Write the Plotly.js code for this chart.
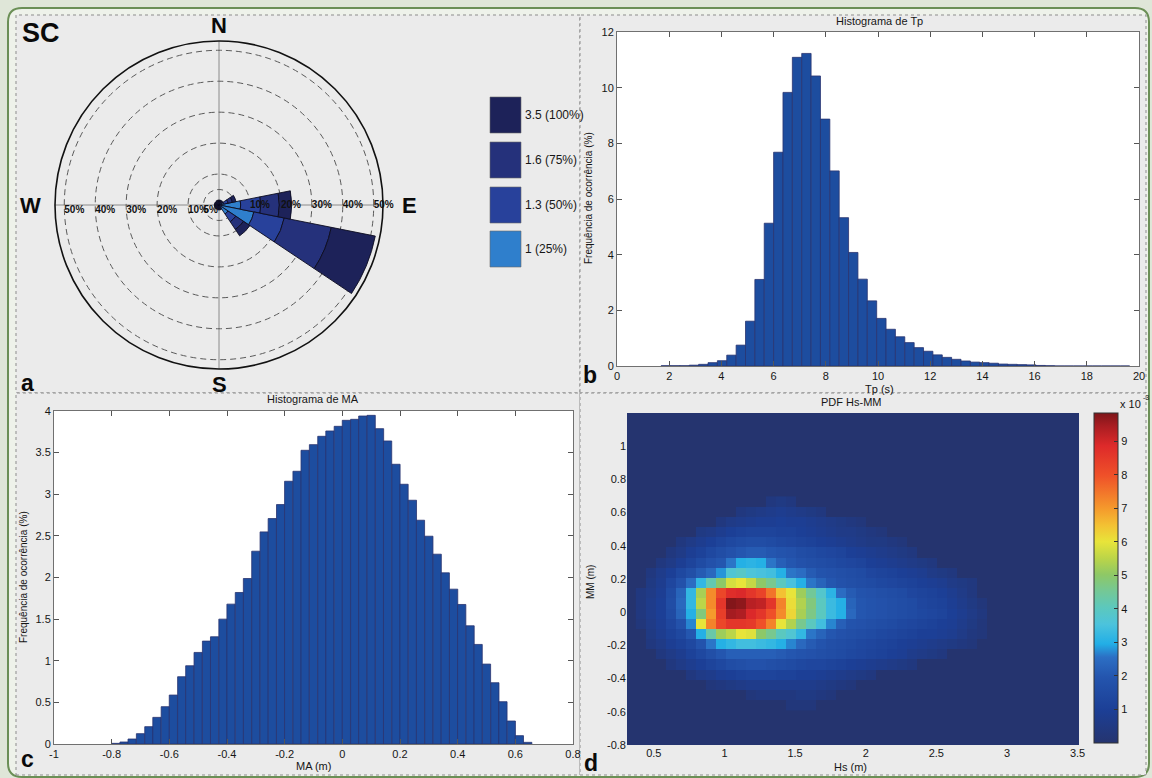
<!DOCTYPE html>
<html>
<head>
<meta charset="utf-8">
<script src="https://cdn.plot.ly/plotly-3.0.1.min.js"></script>
<style>
html,body{margin:0;padding:0;background:#dfe6d8;}
#chart{width:1152px;height:778px;}
</style>
</head>
<body>
<div id="chart"></div>
<script>
// ---------------- DATA ----------------
// (a) wind rose: 16 directions, stacked Hs classes (percent of occurrence per segment)
const directions = ['N','NNE','NE','ENE','E','ESE','SE','SSE','S','SSW','SW','WSW','W','WNW','NW','NNW'];
const directionDeg = [0,22.5,45,67.5,90,112.5,135,157.5,180,202.5,225,247.5,270,292.5,315,337.5];
const hsClassLabels = ['1 (25%)','1.3 (50%)','1.6 (75%)','3.5 (100%)'];
const hsClassColors = ['#2f7fcc','#28419b','#25317b','#1d2259'];
const roseClass1 = [0.5,0.5,0.5,1.5,7.0,11.5,3.5,0.5,0.5,0.4,0.4,0.4,0.4,0.4,0.4,0.5];
const roseClass2 = [0.4,0.4,0.4,1.5,6.5,10.0,3.0,0.4,0.4,0.4,0.4,0.4,0.4,0.4,0.4,0.4];
const roseClass3 = [0.4,0.4,0.4,1.4,6.0,15.5,3.0,0.4,0.4,0.4,0.4,0.4,0.4,0.4,0.4,0.4];
const roseClass4 = [0.3,0.3,0.3,1.2,4.0,14.5,2.5,0.3,0.3,0.3,0.3,0.3,0.3,0.3,0.3,0.3];
const ringValues = [5,10,20,30,40,50];
const ringLabelsWest = ['5%','10%','20%','30%','40%','50%'];
const ringValuesEast = [10,20,30,40,50];
const ringLabelsEast = ['10%','20%','30%','40%','50%'];

// (b) Tp histogram
const tpBinCenters = [1.872,2.231,2.590,2.949,3.308,3.667,4.026,4.385,4.744,5.103,5.462,5.821,6.180,6.539,6.898,7.257,7.616,7.975,8.334,8.693,9.052,9.411,9.770,10.129,10.488,10.847,11.206,11.565,11.924,12.283,12.642,13.001,13.360,13.719,14.078,14.437,14.796,15.155,15.514,15.873,16.232,16.591,16.950,17.309,17.668,18.027,18.386,18.745,19.104,19.463];
const tpFrequency = [0.01,0.01,0.01,0.03,0.06,0.12,0.19,0.39,0.75,1.61,3.11,5.13,7.68,9.83,11.09,11.23,10.42,8.87,7.01,5.33,4.08,3.12,2.34,1.71,1.32,1.05,0.84,0.66,0.53,0.40,0.31,0.24,0.18,0.14,0.12,0.10,0.07,0.06,0.05,0.04,0.02,0.01,0,0,0,0,0,0,0,0];
const tpBinWidth = 0.359;
const tpXTicks = [0,2,4,6,8,10,12,14,16,18,20];
const tpYTicks = [0,2,4,6,8,10,12];

// (c) MA histogram
const maBinCenters = [-0.786,-0.757,-0.729,-0.700,-0.671,-0.643,-0.614,-0.586,-0.557,-0.529,-0.500,-0.471,-0.443,-0.414,-0.386,-0.357,-0.329,-0.300,-0.271,-0.243,-0.214,-0.186,-0.157,-0.129,-0.100,-0.071,-0.043,-0.014,0.014,0.043,0.071,0.100,0.129,0.157,0.186,0.214,0.243,0.271,0.300,0.329,0.357,0.386,0.414,0.443,0.471,0.500,0.529,0.557,0.586,0.614,0.643];
const maFrequency = [0.008,0.024,0.06,0.124,0.208,0.32,0.448,0.588,0.808,0.94,1.10,1.236,1.288,1.50,1.68,1.82,1.988,2.316,2.548,2.708,2.876,3.156,3.276,3.528,3.596,3.696,3.76,3.816,3.888,3.90,3.94,3.948,3.788,3.64,3.36,3.12,2.928,2.688,2.496,2.28,2.056,1.86,1.676,1.42,1.196,0.96,0.736,0.508,0.276,0.10,0.02];
const maBinWidth = 0.0286;
const maXTicks = [-1,-0.8,-0.6,-0.4,-0.2,0,0.2,0.4,0.6,0.8];
const maXTickText = ['-1','-0.8','-0.6','-0.4','-0.2','0','0.2','0.4','0.6','0.8'];
const maYTicks = [0,0.5,1,1.5,2,2.5,3,3.5,4];

// (d) joint PDF Hs-MM (values x 10^-3), rows from top (high MM) to bottom
const hsCenters = [0.408,0.479,0.550,0.621,0.692,0.763,0.834,0.905,0.976,1.047,1.118,1.189,1.260,1.331,1.402,1.473,1.544,1.615,1.686,1.757,1.828,1.899,1.970,2.041,2.112,2.183,2.254,2.325,2.396,2.467,2.538,2.609,2.680,2.751,2.822,2.893];
const mmCenters = [0.667,0.606,0.544,0.483,0.421,0.360,0.298,0.237,0.175,0.114,0.052,-0.010,-0.071,-0.133,-0.194,-0.256,-0.317,-0.379,-0.440,-0.502,-0.563];
const pdfRows = [
 [0,0,0,0,0,0,0,0,0,0,0,0,0,0.4,0.5,0.4,0,0,0,0,0,0,0,0,0,0,0,0,0,0,0,0,0,0,0,0],
 [0,0,0,0,0,0,0,0,0,0,0.4,0.5,0.6,0.7,0.8,0.7,0.6,0.5,0.4,0,0,0,0,0,0,0,0,0,0,0,0,0,0,0,0,0],
 [0,0,0,0,0,0,0,0,0.4,0.6,0.7,0.8,0.9,0.9,1.0,0.9,0.9,0.8,0.7,0.6,0.5,0.4,0.3,0,0,0,0,0,0,0,0,0,0,0,0,0],
 [0,0,0,0,0,0,0.5,0.6,0.8,1.0,1.1,1.2,1.2,1.2,1.1,1.1,1.0,0.9,0.8,0.7,0.6,0.6,0.5,0.4,0.3,0,0,0,0,0,0,0,0,0,0,0],
 [0,0,0,0,0.4,0.6,0.8,1.0,1.2,1.4,1.5,1.6,1.6,1.5,1.4,1.3,1.2,1.1,1.0,0.9,0.8,0.7,0.6,0.5,0.5,0.4,0.3,0,0,0,0,0,0,0,0,0],
 [0,0,0,0.4,0.6,0.9,1.1,1.4,1.6,1.8,2.0,2.1,2.1,2.0,1.9,1.8,1.6,1.5,1.4,1.3,1.2,1.0,0.9,0.8,0.7,0.6,0.5,0.4,0,0,0,0,0,0,0,0],
 [0,0,0.4,0.6,0.9,1.2,1.5,1.8,2.0,2.6,3.0,3.1,3.0,2.6,2.2,2.0,1.8,1.7,1.6,1.5,1.4,1.3,1.2,1.0,0.9,0.8,0.7,0.6,0.5,0.4,0,0,0,0,0,0],
 [0,0.4,0.7,1.0,1.4,1.7,2.1,2.4,2.8,3.7,3.9,3.6,3.5,3.4,3.0,2.6,2.5,2.1,1.9,1.8,1.7,1.6,1.5,1.3,1.2,1.1,1.0,0.9,0.8,0.6,0.5,0.4,0,0,0,0],
 [0,0.5,0.8,1.3,1.8,2.5,3.2,4.2,5.0,5.8,6.0,5.6,5.0,4.6,4.0,3.5,3.0,2.6,2.3,2.0,1.8,1.7,1.6,1.5,1.4,1.3,1.2,1.1,1.0,0.9,0.8,0.6,0.5,0.4,0,0],
 [0.4,0.6,0.9,1.5,2.3,3.2,5.3,7.2,8.2,8.8,8.9,8.6,8.3,7.5,6.5,6.0,5.2,4.5,3.8,3.1,2.5,2.1,1.9,1.8,1.7,1.6,1.5,1.3,1.2,1.1,1.0,0.8,0.6,0.4,0,0],
 [0.4,0.7,1.0,1.6,2.4,3.2,5.5,7.2,8.6,9.8,9.7,9.3,9.2,8.6,7.3,6.1,5.4,4.8,4.0,3.3,3.0,2.3,2.0,1.9,1.8,1.7,1.6,1.5,1.3,1.2,1.1,0.9,0.7,0.5,0.3,0],
 [0.4,0.7,1.0,1.5,2.3,3.0,4.8,7.0,8.4,9.5,9.4,8.9,8.6,8.0,7.2,6.2,5.3,4.7,4.0,3.3,3.0,2.4,2.0,1.9,1.8,1.7,1.6,1.5,1.4,1.3,1.2,1.0,0.8,0.6,0.4,0],
 [0.3,0.6,0.9,1.3,1.8,2.7,6.0,7.3,8.2,8.6,8.6,8.5,8.0,7.3,6.0,5.4,4.6,4.0,3.4,2.7,2.2,1.9,1.8,1.7,1.6,1.5,1.4,1.3,1.2,1.1,1.0,0.9,0.7,0.5,0.3,0],
 [0,0.5,0.8,1.1,1.4,2.0,3.0,4.3,5.2,5.5,6.0,5.9,5.0,4.6,4.0,3.7,3.2,2.6,2.3,2.0,1.8,1.7,1.6,1.5,1.4,1.3,1.2,1.1,1.0,1.0,0.9,0.8,0.6,0.4,0.3,0],
 [0,0.4,0.6,0.9,1.1,1.4,1.9,2.6,3.0,3.2,3.4,3.4,3.3,3.2,3.0,2.7,2.4,2.1,1.9,1.7,1.6,1.5,1.4,1.3,1.2,1.1,1.0,0.9,0.8,0.7,0.6,0.5,0.4,0.3,0,0],
 [0,0,0.4,0.6,0.8,1.1,1.4,1.7,2.0,2.2,2.2,2.2,2.2,2.2,2.1,2.0,1.9,1.8,1.7,1.6,1.5,1.4,1.3,1.2,1.1,1.0,0.9,0.7,0.6,0.5,0.4,0,0,0,0,0],
 [0,0,0,0.4,0.6,0.8,1.0,1.2,1.4,1.6,1.7,1.8,1.8,1.7,1.6,1.5,1.4,1.3,1.3,1.2,1.1,1.0,0.9,0.8,0.7,0.6,0.5,0.4,0,0,0,0,0,0,0,0],
 [0,0,0,0,0,0.4,0.6,0.7,0.9,1.0,1.1,1.2,1.2,1.2,1.1,1.1,1.0,1.0,0.9,0.8,0.7,0.6,0.5,0.4,0,0,0,0,0,0,0,0,0,0,0,0],
 [0,0,0,0,0,0,0,0.3,0.4,0.5,0.6,0.7,0.7,0.7,0.7,0.7,0.7,0.7,0.6,0.5,0.4,0.3,0,0,0,0,0,0,0,0,0,0,0,0,0,0],
 [0,0,0,0,0,0,0,0,0,0,0,0.3,0.4,0.4,0.4,0.4,0.5,0.5,0.4,0.3,0,0,0,0,0,0,0,0,0,0,0,0,0,0,0,0],
 [0,0,0,0,0,0,0,0,0,0,0,0,0,0,0,0.3,0.3,0.3,0,0,0,0,0,0,0,0,0,0,0,0,0,0,0,0,0,0]
];
const hsTicks = [0.5,1,1.5,2,2.5,3,3.5];
const mmTicks = [-0.8,-0.6,-0.4,-0.2,0,0.2,0.4,0.6,0.8,1];
const mmTickText = ['-0.8','-0.6','-0.4','-0.2','0','0.2','0.4','0.6','0.8','1'];
const cbTicks = [1,2,3,4,5,6,7,8,9];
const pdfMax = 9.85;

// ---------------- HELPERS ----------------
const W = 1152, H = 778;
const fx = v => v / W;
const fy = v => 1 - v / H;
const FONT = 'Arial, "Liberation Sans", Helvetica, sans-serif';
const TXT = '#161616';

const pdfColorscale = [
  [0,'#25346f'],[0.1,'#1c3f96'],[0.2,'#2455ae'],[0.26,'#2c6fc4'],[0.3,'#22aee6'],
  [0.36,'#4cc3dc'],[0.41,'#5cc8bd'],[0.46,'#74c896'],[0.51,'#8ec866'],[0.56,'#bcd548'],
  [0.61,'#e8e43a'],[0.66,'#f3c133'],[0.71,'#f59a2c'],[0.81,'#ef5129'],[0.9,'#de2a2a'],
  [0.96,'#aa1d22'],[1,'#7d1519']
];

// ---------------- TRACES ----------------
const roseSeries = [roseClass1, roseClass2, roseClass3, roseClass4];
const traces = [];
roseSeries.forEach((vals, i) => {
  traces.push({
    type:'barpolar', subplot:'polar', r: vals, theta: directionDeg, width: 22.5,
    name: hsClassLabels[i],
    marker:{color: hsClassColors[i], line:{color:'#0d0d20', width:0.9}},
    hoverinfo:'skip'
  });
});
traces.push({
  type:'scatterpolar', subplot:'polar', mode:'text', r: ringValues, theta: ringValues.map(() => 270),
  text: ringLabelsWest, textposition:'bottom right',
  textfont:{family:FONT, size:10, color:'#111', weight:'bold'}, hoverinfo:'skip'
});
traces.push({
  type:'scatterpolar', subplot:'polar', mode:'text', r: ringValuesEast, theta: ringValuesEast.map(() => 90),
  text: ringLabelsEast, textposition:'middle right',
  textfont:{family:FONT, size:10, color:'#111', weight:'bold'}, hoverinfo:'skip'
});
traces.push({
  type:'bar', x: tpBinCenters, y: tpFrequency, width: tpBinWidth, xaxis:'x', yaxis:'y',
  marker:{color:'#1d4d9f', line:{color:'#283470', width:0.8}}, hoverinfo:'skip'
});
traces.push({
  type:'bar', x: maBinCenters, y: maFrequency, width: maBinWidth, xaxis:'x2', yaxis:'y2',
  marker:{color:'#1d4d9f', line:{color:'#283470', width:0.8}}, hoverinfo:'skip'
});
traces.push({
  type:'heatmap', x: hsCenters, y: mmCenters, z: pdfRows, xaxis:'x3', yaxis:'y3',
  zmin:0, zmax:pdfMax, colorscale: pdfColorscale, zsmooth:false, hoverinfo:'skip',
  colorbar:{
    x: fx(1094), xanchor:'left', y: fy(578), yanchor:'middle',
    len: 330, lenmode:'pixels', thickness: 24, thicknessmode:'pixels',
    xpad:0, ypad:0, outlinewidth:1, outlinecolor:'#333',
    tickvals: cbTicks, ticks:'inside', ticklen:4, tickcolor:'#333',
    tickfont:{family:FONT, size:11, color:TXT}
  }
});

// ---------------- SHAPES ----------------
function roundedRectPath(x0,y0,x1,y1,r){
  const X = v => fx(v).toFixed(5), Y = v => fy(v).toFixed(5);
  return `M${X(x0+r)},${Y(y0)} L${X(x1-r)},${Y(y0)} Q${X(x1)},${Y(y0)} ${X(x1)},${Y(y0+r)} `+
         `L${X(x1)},${Y(y1-r)} Q${X(x1)},${Y(y1)} ${X(x1-r)},${Y(y1)} L${X(x0+r)},${Y(y1)} `+
         `Q${X(x0)},${Y(y1)} ${X(x0)},${Y(y1-r)} L${X(x0)},${Y(y0+r)} Q${X(x0)},${Y(y0)} ${X(x0+r)},${Y(y0)} Z`;
}
function rectPx(x0,y0,x1,y1,fill,line){
  return {type:'rect', xref:'paper', yref:'paper', layer:'below',
    x0:fx(x0), x1:fx(x1), y0:fy(y1), y1:fy(y0), fillcolor:fill,
    line: line || {width:0}};
}
const panelLine = {color:'#8d8d8d', width:1, dash:'dot'};
const shapes = [
  {type:'path', xref:'paper', yref:'paper', layer:'below', path: roundedRectPath(8,8,1149,777,14),
   fillcolor:'#eef2ea', line:{color:'#6b8f56', width:2}},
  rectPx(16,15,580,393,'#ebebeb',panelLine),
  rectPx(580,15,1146,393,'#ebebeb',panelLine),
  rectPx(16,393,580,775,'#ebebeb',panelLine),
  rectPx(580,393,1146,775,'#ebebeb',panelLine),
  rectPx(617,32,1139,366,'#ffffff'),
  rectPx(54,411,573,744,'#ffffff'),
  rectPx(627,413,1079,745,'#25346f')
];
// legend swatches (top = largest class)
const legendTop = [97,142,187,231];
const legendOrder = [3,2,1,0];
legendOrder.forEach((ci, k) => {
  shapes.push({type:'rect', xref:'paper', yref:'paper', layer:'above',
    x0:fx(490), x1:fx(521), y0:fy(legendTop[k]+36), y1:fy(legendTop[k]),
    fillcolor: hsClassColors[ci], line:{color:'#6a6a6a', width:0.6}});
});

// ---------------- ANNOTATIONS ----------------
function ann(text, x, y, opts){
  return Object.assign({text, x:fx(x), y:fy(y), xref:'paper', yref:'paper', showarrow:false,
    xanchor:'center', yanchor:'middle', font:{family:FONT, size:11, color:TXT}}, opts || {});
}
const bold = (s) => ({family:FONT, size:s, color:'#0a0a0a', weight:'bold'});
const annotations = [
  ann('SC', 41, 33, {font:bold(27)}),
  ann('N', 219, 25, {font:bold(22)}),
  ann('S', 219, 384, {font:bold(22)}),
  ann('W', 30, 205, {font:bold(22)}),
  ann('E', 409, 205, {font:bold(22)}),
  ann('a', 27, 383, {font:bold(23)}),
  ann('b', 590, 375, {font:bold(23)}),
  ann('c', 27, 759, {font:bold(23)}),
  ann('d', 591, 763, {font:bold(23)}),
  ann('Histograma de Tp', 879, 21),
  ann('Histograma de MA', 313, 399),
  ann('PDF Hs-MM', 851, 402),
  ann('Tp (s)', 879, 388.5),
  ann('MA (m)', 313, 766),
  ann('Hs (m)', 850, 767),
  ann('Frequência de ocorrência (%)', 589, 198, {textangle:-90, font:{family:FONT, size:10, color:TXT}}),
  ann('Frequência de ocorrência (%)', 23, 577, {textangle:-90, font:{family:FONT, size:10, color:TXT}}),
  ann('MM (m)', 590, 582, {textangle:-90, font:{family:FONT, size:10, color:TXT}}),
  ann('x 10', 1130, 404, {font:{family:FONT, size:11, color:TXT}}),
  ann('-3', 1146, 398, {font:{family:FONT, size:7, color:TXT}})
];
legendOrder.forEach((ci, k) => {
  annotations.push(ann(hsClassLabels[ci], 523, legendTop[k]+18, {xanchor:'left', font:{family:FONT, size:12, color:TXT}}));
});

// ---------------- LAYOUT ----------------
const axisStyle = {
  showline:true, linecolor:'#707070', linewidth:1, mirror:'ticks', ticks:'inside', ticklen:5,
  tickcolor:'#555', showgrid:false, zeroline:false, fixedrange:true,
  tickfont:{family:FONT, size:11, color:TXT}
};
const layout = {
  width: W, height: H, autosize:false,
  margin:{l:0, r:0, t:0, b:0, pad:0},
  paper_bgcolor:'#dfe6d8', plot_bgcolor:'rgba(0,0,0,0)',
  showlegend:false,
  font:{family:FONT, color:TXT},
  polar:{
    domain:{x:[fx(219-164), fx(219+164)], y:[fy(205+164), fy(205-164)]},
    bgcolor:'rgba(0,0,0,0)',
    barmode:'stack',
    radialaxis:{range:[0,53], tickvals: ringValues, showticklabels:false, ticks:'',
      showline:false, showgrid:true, gridcolor:'#5a5a5a', gridwidth:1, griddash:'6px,4px'},
    angularaxis:{rotation:90, direction:'clockwise', tickvals:[0,90,180,270], showticklabels:false,
      ticks:'', showgrid:true, gridcolor:'#8a8a8a', gridwidth:1, showline:true, linecolor:'#111', linewidth:1.6}
  },
  xaxis: Object.assign({}, axisStyle, {domain:[fx(617), fx(1139)], anchor:'y', range:[0,20], tickvals: tpXTicks}),
  yaxis: Object.assign({}, axisStyle, {domain:[fy(366), fy(32)], anchor:'x', range:[0,12], tickvals: tpYTicks}),
  xaxis2: Object.assign({}, axisStyle, {domain:[fx(54), fx(573)], anchor:'y2', range:[-1,0.8], tickvals: maXTicks, ticktext: maXTickText}),
  yaxis2: Object.assign({}, axisStyle, {domain:[fy(744), fy(411)], anchor:'x2', range:[0,4], tickvals: maYTicks}),
  xaxis3: Object.assign({}, axisStyle, {domain:[fx(627), fx(1079)], anchor:'y3', range:[0.31,3.51], tickvals: hsTicks, showline:false, ticks:''}),
  yaxis3: Object.assign({}, axisStyle, {domain:[fy(745), fy(413)], anchor:'x3', range:[-0.8,1.2], tickvals: mmTicks, ticktext: mmTickText, showline:false, ticks:''}),
  bargap:0,
  shapes, annotations
};

Plotly.newPlot('chart', traces, layout, {staticPlot:true, displayModeBar:false});
</script>
</body>
</html>
